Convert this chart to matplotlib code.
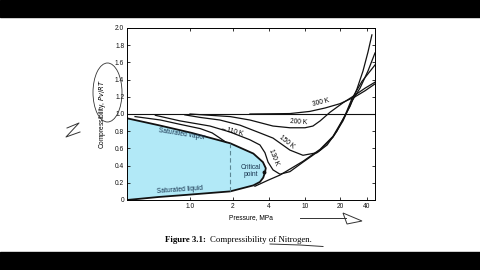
import numpy as np
import matplotlib.pyplot as plt
from matplotlib.patches import Ellipse, Rectangle, Polygon

plt.rcParams['font.family'] = ['Liberation Sans', 'DejaVu Sans']

# pressure axis of the book figure is not a clean log scale: knots read off the ticks
knot_p = [0.36, 1, 2, 4, 10, 20, 40, 49]
knot_u = [127, 190, 233, 269, 305, 340, 367, 375]
tick_p = [1, 2, 4, 10, 20, 40]
tick_lab = ['1.0', '2', '4', '10', '20', '40']
ytick_v = [0, 0.2, 0.4, 0.6, 0.8, 1.0, 1.2, 1.4, 1.6, 1.8, 2.0]
ytick_lab = ['0', '0.2', '0.4', '0.6', '0.8', '1.0', '1.2', '1.4', '1.6', '1.8', '2.0']

# saturation dome
vap_p = [0.36, 0.60, 1.03, 1.91, 2.96, 3.56, 3.76, 3.70]
vap_z = [0.95, 0.87, 0.78, 0.66, 0.54, 0.44, 0.37, 0.32]
liq_p = [0.36, 0.60, 0.95, 1.91, 2.96, 3.36, 3.58, 3.70]
liq_z = [0.00, 0.035, 0.06, 0.10, 0.17, 0.21, 0.26, 0.32]
crit_p, crit_z = 3.66, 0.32
dash_p = 1.91
dash_z = [0.10, 0.66]

# isotherms
t110_p = [0.41, 0.62, 0.85, 1.18, 1.43, 1.62, 1.79]
t110_z = [0.97, 0.93, 0.88, 0.83, 0.78, 0.72, 0.67]
liq_iso_p = [3.05, 3.93, 5.29, 9.50, 13.5, 17.4, 21.6, 25.9, 30.9, 36.1, 41.0, 45.3]
liq_iso_z = [0.16, 0.23, 0.29, 0.45, 0.59, 0.74, 0.94, 1.09, 1.29, 1.50, 1.72, 1.92]
t130_p = [0.57, 0.85, 1.38, 1.91, 2.77, 3.36, 3.70, 3.93, 4.43, 5.29, 6.82, 9.50, 13.5, 17.4, 21.6, 27.2, 33.4, 41.0, 49]
t130_z = [0.985, 0.92, 0.86, 0.79, 0.70, 0.64, 0.55, 0.44, 0.35, 0.30, 0.33, 0.44, 0.58, 0.73, 0.92, 1.15, 1.30, 1.50, 1.71]
t150_p = [0.92, 1.18, 1.62, 2.29, 3.36, 4.43, 6.82, 9.50, 12.7, 15.5, 18.8, 22.7, 27.2, 35.2, 49]
t150_z = [0.99, 0.96, 0.93, 0.87, 0.78, 0.72, 0.58, 0.52, 0.55, 0.64, 0.80, 0.98, 1.18, 1.38, 1.57]
t200_p = [1.0, 1.91, 2.77, 4.43, 6.82, 10, 11.7, 13.5, 16.4, 21.6, 29.4, 38.0, 49]
t200_z = [1.0, 0.97, 0.93, 0.86, 0.84, 0.84, 0.86, 0.92, 1.02, 1.13, 1.22, 1.30, 1.37]
t300_p = [2.77, 6.82, 11.0, 14.9, 20, 29.4, 38.0, 49]
t300_z = [1.0, 1.005, 1.03, 1.07, 1.12, 1.20, 1.27, 1.35]


def fwd(p):
    p = np.maximum(np.asarray(p, dtype=float), 1e-6)
    return np.interp(np.log10(p), np.log10(knot_p), knot_u)


def inv(u):
    return 10 ** np.interp(u, knot_u, np.log10(knot_p))


fig = plt.figure(figsize=(4.8, 2.7), dpi=100)
fig.patch.set_facecolor('white')
ax = fig.add_axes([127 / 480, 1 - 200 / 270, 248 / 480, 172 / 270])
ax.set_xscale('function', functions=(fwd, inv))
ax.set_xlim(0.36, 49)
ax.set_ylim(0, 2.0)

ink = '#111111'
ax.fill(vap_p + liq_p[::-1], vap_z + liq_z[::-1], color='#b2e9f7', lw=0)
ax.plot(vap_p, vap_z, color=ink, lw=1.3)
ax.plot(liq_p, liq_z, color=ink, lw=1.3)
ax.plot([dash_p, dash_p], dash_z, color='#5b8794', lw=0.8, ls=(0, (4, 2.5)))
ax.plot([crit_p], [crit_z], 'o', color=ink, ms=1.8)
ax.axhline(1.0, color=ink, lw=0.8)

for p, z in [(t110_p, t110_z), (liq_iso_p, liq_iso_z), (t130_p, t130_z),
             (t150_p, t150_z), (t200_p, t200_z), (t300_p, t300_z)]:
    ax.plot(p, z, color=ink, lw=0.9)

fs = 4.8
ax.text(13.7, 1.13, '300 K', fontsize=fs, rotation=14, ha='center', va='center')
ax.text(8.6, 0.90, '200 K', fontsize=fs, rotation=-4, ha='center', va='center')
ax.text(6.3, 0.67, '150 K', fontsize=fs, rotation=-38, ha='center', va='center')
ax.text(4.45, 0.50, '130 K', fontsize=fs, rotation=-68, ha='center', va='center')
ax.text(1.96, 0.80, '\u2190110 K', fontsize=fs, rotation=-14, ha='center', va='center')
navy = '#17324d'
ax.text(0.88, 0.765, 'Saturated vapor', fontsize=fs, rotation=-9, ha='center', va='center', color=navy)
ax.text(0.85, 0.115, 'Saturated liquid', fontsize=fs, rotation=4, ha='center', va='center', color=navy)
ax.text(2.8, 0.34, 'Critical\npoint', fontsize=fs, ha='center', va='center', color=navy, linespacing=0.95)

ax.set_xticks(tick_p)
ax.set_xticklabels(tick_lab)
ax.xaxis.set_minor_locator(plt.NullLocator())
ax.set_yticks(ytick_v)
ax.set_yticklabels(ytick_lab)
ax.tick_params(direction='in', length=2.5, width=0.6, labelsize=fs, pad=2,
               top=True, right=True, colors=ink)
for s in ax.spines.values():
    s.set_linewidth(0.7)
ax.set_xlabel('Pressure, MPa', fontsize=fs, labelpad=3)
ax.set_ylabel('Compressibility, $Pv/RT$', fontsize=fs, labelpad=5)


def px(x, y):
    return x / 480, 1 - y / 270


# black letterbox bars of the screenshot
fig.patches.append(Rectangle((0, 1 - 17 / 270), 1, 17 / 270, transform=fig.transFigure, color='black'))
fig.patches.append(Rectangle((0, 0), 1, 18 / 270, transform=fig.transFigure, color='black'))

# caption
cy = 1 - 240 / 270
fig.text(165 / 480, cy, 'Figure 3.1:', family='Liberation Serif', weight='bold', fontsize=6.3, va='center')
fig.text(210 / 480, cy, 'Compressibility of Nitrogen.', family='Liberation Serif', fontsize=6.3, va='center')

# pen scribbles on the slide
pen = '#333333'
cx, cyy = px(107.5, 92.5)
fig.patches.append(Ellipse((cx, cyy), 29 / 480, 59 / 270, transform=fig.transFigure,
                           fill=False, ec=pen, lw=0.6))
zx = [67, 79, 66, 80]
zy = [128, 123, 137, 132]
fig.lines.append(plt.Line2D([x / 480 for x in zx], [1 - y / 270 for y in zy],
                            transform=fig.transFigure, color=pen, lw=0.7))
fig.lines.append(plt.Line2D([300 / 480, 346 / 480], [1 - 218 / 270, 1 - 218 / 270],
                            transform=fig.transFigure, color=pen, lw=0.7))
fig.patches.append(Polygon([px(343, 213), px(362, 221), px(347, 224)], closed=True,
                           transform=fig.transFigure, fill=False, ec=pen, lw=0.7))
fig.lines.append(plt.Line2D([270 / 480, 300 / 480, 323 / 480], [1 - 244 / 270, 1 - 245 / 270, 1 - 246.5 / 270],
                            transform=fig.transFigure, color=pen, lw=0.7))

fig.savefig('out.png', dpi=100)
